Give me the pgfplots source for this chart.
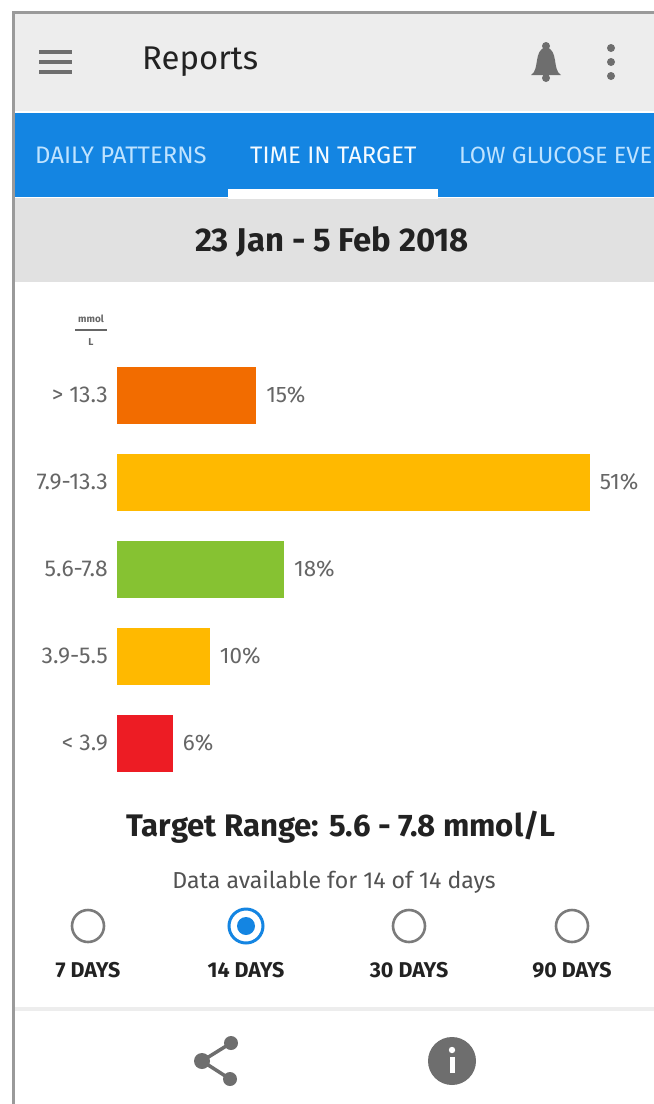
\documentclass[border=0pt]{standalone}
\usepackage{fontspec}
\setmainfont{Fira Sans}
\usepackage{pgfplots}
\pgfplotsset{compat=1.18}
\definecolor{hdr}{HTML}{EDEDED}
\definecolor{tabblue}{HTML}{1485E2}
\definecolor{band}{HTML}{E1E1E1}
\definecolor{edge}{HTML}{9A9A9A}
\definecolor{ink}{HTML}{222222}
\definecolor{lbl}{HTML}{666666}
\definecolor{icon}{HTML}{6E6E6E}
\definecolor{tabtxt}{HTML}{BFE3FF}
\definecolor{barorange}{HTML}{F26C00}
\definecolor{baramber}{HTML}{FFB900}
\definecolor{bargreen}{HTML}{86C232}
\definecolor{barred}{HTML}{ED1C24}
\newcommand{\fs}[1]{\fontsize{#1}{#1}\selectfont}
\begin{document}
\begin{tikzpicture}[x=1bp,y=-1bp]
\useasboundingbox (0,0) rectangle (654,1104);
% app chrome
\fill[white] (0,0) rectangle (654,1104);
\fill[hdr] (15,14) rectangle (654,111);
\fill[tabblue] (15,113) rectangle (654,197);
\fill[band] (15,198) rectangle (654,282);
\fill[white] (228,189) rectangle (438,199);
\fill[edge] (12,11) rectangle (654,14);
\fill[edge] (12,11) rectangle (15,1104);
\fill[hdr] (15,1007) rectangle (654,1011);
% header
\foreach \yy in {52,62,72} \draw[icon,line width=3.4bp] (39,\yy) -- (72,\yy);
\node[anchor=west,inner sep=0,text=ink] at (142,62) {\fs{33}Reports};
\fill[icon] (546,46) circle (4);
\fill[icon] (531,75) .. controls (540,70) and (533,50) .. (546,47) .. controls (559,50) and (552,70) .. (561,75) -- cycle;
\fill[icon] (546,78) circle (4);
\foreach \yy in {48,62,76} \fill[icon] (611,\yy) circle (4);
% tabs
\node[anchor=west,inner sep=0,text=tabtxt] at (35,155) {\fs{24}DAILY PATTERNS};
\node[anchor=west,inner sep=0,text=white!85!tabtxt] at (250,155) {\fs{24}TIME IN TARGET};
\node[anchor=west,inner sep=0,text=tabtxt] at (459,155) {\fs{23.6}LOW GLUCOSE EVE};
\node[text=ink,inner sep=0] at (332,242) {\fs{33}\bfseries 23 Jan - 5 Feb 2018};
% unit
\node[text=lbl,inner sep=0] at (91,319) {\fs{10}\bfseries mmol};
\draw[lbl,line width=1.2bp] (75,330) -- (107,330);
\node[text=lbl,inner sep=0] at (91,342) {\fs{10}\bfseries L};
% bars
\begin{axis}[
at={(117bp,-351.5bp)}, anchor=north west,
x=9.27bp, y=87bp,
xmin=0, xmax=57,
ymin=-0.5, ymax=4.5,
y dir=reverse,
hide x axis,
axis y line*=left,
y axis line style={draw=none},
ytick={0,1,2,3,4},
yticklabels={> 13.3,7.9-13.3,5.6-7.8,3.9-5.5,< 3.9},
major tick length=0pt,
yticklabel style={font=\fs{23},text=lbl,inner sep=0,xshift=-9bp},
/pgf/number format/assume math mode=true,
xbar,
bar width=57bp,
bar shift=0pt,
clip=false,
nodes near coords={\pgfmathprintnumber{\pgfplotspointmeta}\%},
point meta=x,
nodes near coords style={font=\fs{22.5},text=lbl,inner sep=0,anchor=west,xshift=10bp},
]
\addplot[draw=none,fill=barorange] coordinates {(15,0)};
\addplot[draw=none,fill=baramber] coordinates {(51,1)};
\addplot[draw=none,fill=bargreen] coordinates {(18,2)};
\addplot[draw=none,fill=baramber] coordinates {(10,3)};
\addplot[draw=none,fill=barred] coordinates {(6,4)};
\end{axis}
% footer
\node[text=ink,inner sep=0] at (341,827) {\fs{31.3}\bfseries Target Range: 5.6 - 7.8 mmol/L};
\node[text=lbl!80!black,inner sep=0] at (334,882) {\fs{23.2}Data available for 14 of 14 days};
\foreach \xx in {88,409,572} \draw[edge!80!black,line width=2.6bp] (\xx,926) circle (16);
\draw[tabblue,line width=3bp] (246,926) circle (17);
\fill[tabblue] (246,926) circle (9);
\node[text=ink,inner sep=0] at (88,970) {\fs{21.5}\bfseries 7 DAYS};
\node[text=ink,inner sep=0] at (246,970) {\fs{21.5}\bfseries 14 DAYS};
\node[text=ink,inner sep=0] at (409,970) {\fs{21.5}\bfseries 30 DAYS};
\node[text=ink,inner sep=0] at (572,970) {\fs{21.5}\bfseries 90 DAYS};
% share and info icons
\draw[icon,line width=3.5bp] (231,1043) -- (202,1061) -- (230,1079);
\foreach \xx/\yy/\rr in {231/1043/7,202/1061/8,230/1079/7} \fill[icon] (\xx,\yy) circle (\rr);
\fill[icon] (452,1061) circle (24);
\fill[white] (452,1050) circle (3.2);
\fill[white] (449.5,1057) rectangle (454.5,1073);
\end{tikzpicture}
\end{document}
